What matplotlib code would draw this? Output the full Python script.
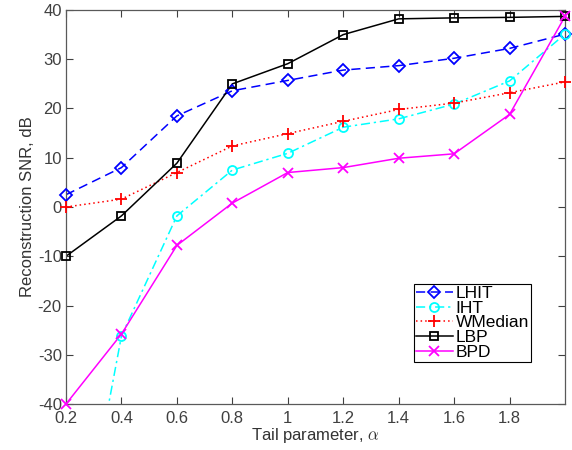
import numpy as np
import matplotlib
import matplotlib.pyplot as plt
from matplotlib.lines import Line2D

matplotlib.use('Agg')

plt.rcParams['font.family'] = ['Liberation Sans', 'DejaVu Sans']
plt.rcParams['mathtext.fontset'] = 'cm'
plt.rcParams['axes.unicode_minus'] = False

alpha = [0.2, 0.4, 0.6, 0.8, 1.0, 1.2, 1.4, 1.6, 1.8, 2.0]
lhit = [2.5, 8.0, 18.5, 23.6, 25.7, 27.8, 28.7, 30.2, 32.2, 35.1]
iht = [-86.0, -26.2, -1.8, 7.5, 10.9, 16.2, 17.9, 20.9, 25.6, 35.1]
wmedian = [0.0, 1.6, 7.0, 12.4, 14.9, 17.4, 19.8, 21.1, 23.2, 25.4]
lbp = [-10.0, -1.8, 8.9, 25.0, 29.1, 35.0, 38.2, 38.4, 38.5, 38.7]
bpd = [-40.0, -25.8, -7.8, 0.8, 7.0, 8.0, 9.9, 10.8, 18.8, 38.7]

series = [
    ('LHIT', lhit, 'blue', (0, (6, 3.5)), 'D'),
    ('IHT', iht, 'cyan', (0, (6, 2.5, 1.5, 2.5)), 'o'),
    ('WMedian', wmedian, 'red', (0, (1, 2)), '+'),
    ('LBP', lbp, 'black', '-', 's'),
    ('BPD', bpd, 'magenta', '-', 'x'),
]
msizes = {'D': 6, 'o': 6.5, '+': 9, 's': 5.5, 'x': 7}

fig = plt.figure(figsize=(5.72, 4.5), dpi=100)
ax = fig.add_axes([0.1154, 0.1022, 0.8724, 0.8756])

handles = []
for name, vals, col, ls, mk in series:
    y = np.array(vals)
    ax.plot(alpha, y, color=col, ls=ls, lw=1.1)
    # markers stay whole at the axes edges, like the original
    ym = np.ma.masked_less(y, -40.5)
    ax.plot(alpha, ym, ls='none', marker=mk, ms=msizes[mk], mfc='none',
            mec=col, mew=1.3, clip_on=False, zorder=3)
    handles.append(Line2D([], [], color=col, ls=ls, lw=1.1, marker=mk,
                          ms=msizes[mk], mfc='none', mec=col, mew=1.3))

ax.set_xlim(0.2, 2.0)
ax.set_ylim(-40, 40)
ax.set_xticks([0.2, 0.4, 0.6, 0.8, 1.0, 1.2, 1.4, 1.6, 1.8])
ax.set_xticklabels(['0.2', '0.4', '0.6', '0.8', '1', '1.2', '1.4', '1.6', '1.8'])
ax.set_yticks(range(-40, 41, 10))
ax.tick_params(direction='in', top=True, right=True, length=5, width=0.8,
               labelsize=12, colors='0.25', pad=3)
ax.tick_params(axis='x', pad=5)
for s in ax.spines.values():
    s.set_color('0.35')
    s.set_linewidth(0.9)

ax.set_xlabel(r'Tail parameter, $\alpha$', fontsize=12, color='0.2', labelpad=0)
ax.set_ylabel('Reconstruction SNR, dB', fontsize=12, color='0.2', labelpad=2)

leg = ax.legend(handles, [s[0] for s in series], loc='upper right',
                bbox_to_anchor=(0.932, 0.305), fontsize=12.5, frameon=True,
                fancybox=False, edgecolor='black', framealpha=1,
                borderpad=0.12, labelspacing=-0.03, handlelength=2.1,
                handletextpad=0.17, borderaxespad=0)
leg.get_frame().set_linewidth(0.8)

fig.savefig('out.png', dpi=100)
